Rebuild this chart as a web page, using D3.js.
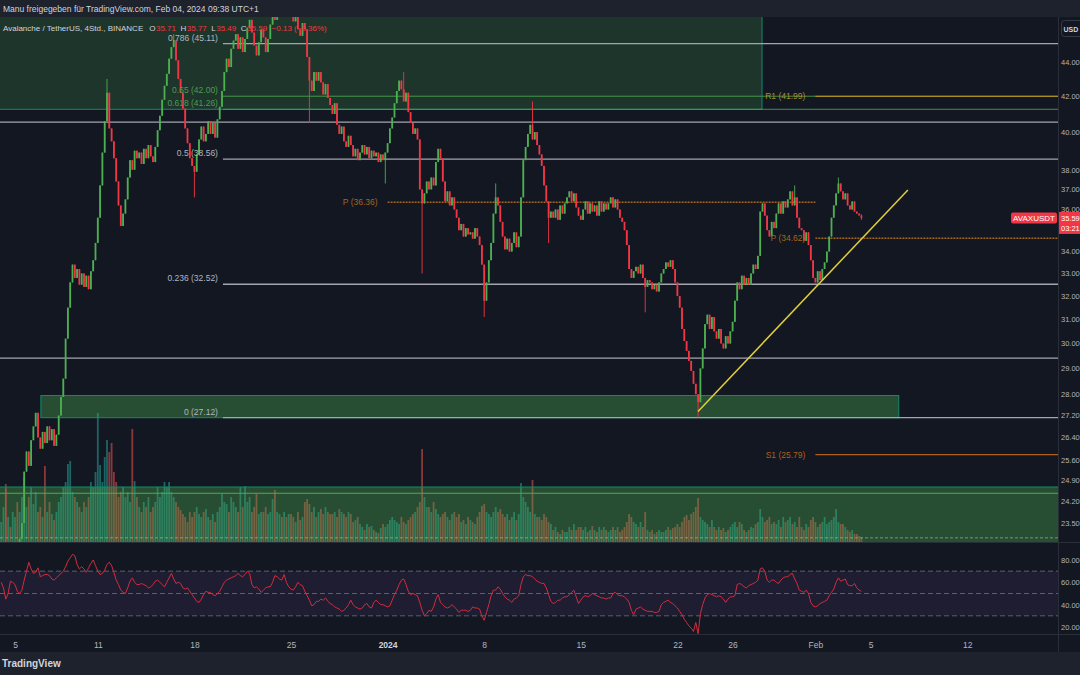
<!DOCTYPE html>
<html>
<head>
<meta charset="utf-8">
<script src="https://cdn.jsdelivr.net/npm/d3@7"></script>
<style>
  body { margin: 0; background: #131722; }
  svg text { font-family: "Liberation Sans", Arial, sans-serif; }
</style>
</head>
<body>
<div id="chart"></div>
<script>
// AVAX / TetherUS, 4h candles, Dec 4 2023 -> Feb 4 2024
const candleStart = "2023-12-04T00:00:00Z";
const candleHours = 4;
const firstOpen = 22.5;

// closes, one row per day (6 candles)
const closes = [
  22.6, 22.9, 22.5, 22.8, 22.4, 22.7,   // Dec 4
  22.8, 22.6, 23.0, 23.5, 25.2, 25.9,
  25.4, 26.3, 26.8, 27.3, 26.4, 26.0,
  26.6, 26.2, 26.8, 26.3, 26.7, 26.1,
  26.5, 27.2, 27.9, 28.6, 30.2, 31.5,
  32.6, 33.4, 32.8, 33.2, 32.5, 33.0,   // Dec 9
  32.4, 32.9, 32.3, 33.1, 33.6, 34.4,
  35.6, 37.2, 38.9, 40.6, 42.2, 40.2,
  39.5, 38.6, 37.4, 36.2, 35.2, 35.8,
  36.5, 37.6, 38.5, 38.0, 39.0, 38.6,
  38.9, 38.3, 39.1, 38.6, 39.3, 38.7,   // Dec 14
  38.4, 39.2, 40.1, 40.9, 41.8, 42.6,
  43.3, 44.2, 44.9, 45.3, 44.1, 43.0,
  42.2, 41.3, 40.2, 39.4, 38.6, 38.2,
  37.9, 38.8, 39.6, 40.3, 39.5, 39.9,
  40.6, 39.9, 40.5, 39.7, 40.7, 41.4,   // Dec 19
  42.3, 43.4, 44.2, 43.7, 44.8, 45.3,
  45.7, 44.8, 45.5, 44.6, 45.4, 46.1,
  46.6, 45.8, 45.0, 44.4, 45.2, 46.0,
  45.5, 44.6, 45.4, 46.3, 47.2, 46.6,
  47.5, 48.3, 47.6, 48.6, 47.8, 48.2,   // Dec 24
  47.2, 46.5, 46.9, 46.0, 45.6, 46.4,
  46.0, 44.3, 42.9, 42.3, 43.4, 42.9,
  43.4, 42.8, 42.1, 42.7, 41.9, 41.5,
  41.0, 41.6, 40.4, 39.9, 40.3, 39.5,
  39.2, 39.8, 39.3, 38.7, 39.1, 38.5,   // Dec 29
  38.9, 39.3, 38.8, 39.2, 38.6, 39.0,
  38.7, 38.9, 38.4, 38.8, 38.5, 38.9,
  39.4, 40.2, 40.8, 41.6, 42.3, 42.9,   // Jan 1
  42.4, 41.7, 42.2, 41.1, 40.5, 39.9,
  40.2, 39.6, 37.0, 36.3, 36.8, 37.4,
  37.0, 37.6, 37.2, 38.4, 39.1, 38.6,
  37.4, 36.4, 36.9, 36.2, 36.6, 36.0,   // Jan 5
  35.6, 35.0, 35.3, 34.7, 35.1, 34.8,
  34.9, 34.6, 35.1, 34.7, 34.3, 33.4,
  31.8, 32.6, 33.6, 34.4, 35.8, 36.6,
  36.2, 35.4, 34.7, 34.1, 34.6, 34.0,
  34.4, 34.9, 34.2, 34.7, 36.6, 38.5,   // Jan 10
  39.2, 39.9, 40.4, 39.6, 40.0, 39.3,
  38.8, 38.2, 37.2, 36.4, 35.6, 35.9,
  35.6, 36.0, 35.5, 36.2, 35.8, 36.3,
  36.6, 36.9, 36.4, 36.8, 36.1, 35.7,
  35.5, 36.0, 36.4, 35.8, 36.3, 35.9,   // Jan 15
  36.2, 35.7, 36.4, 35.9, 36.3, 36.0,
  36.3, 36.6, 36.1, 36.5, 36.0, 35.6,
  35.4, 35.0, 34.3, 33.2, 32.8, 33.1,
  33.3, 33.0, 33.4, 32.8, 32.4, 32.7,
  32.6, 32.3, 32.5, 32.2, 32.6, 33.0,   // Jan 20
  33.2, 33.5, 33.3, 33.6, 33.2, 32.6,
  32.0, 31.5, 30.6, 30.1, 29.7, 29.3,
  28.9, 28.4, 28.0, 27.7, 29.0, 29.8,
  30.8, 31.2, 30.6, 31.1, 30.5, 30.2,
  30.6, 30.0, 29.8, 30.3, 30.0, 30.5,   // Jan 25
  30.9, 31.8, 32.6, 32.3, 32.9, 32.5,
  32.8, 32.5, 33.0, 33.4, 33.2, 33.8,
  35.9, 36.3, 35.7, 35.0, 34.7, 35.4,
  35.1, 35.8, 36.3, 35.8, 36.4, 36.1,
  36.5, 36.9, 36.2, 36.6, 35.6, 35.1,   // Jan 30
  35.0, 34.5, 34.9, 34.3, 33.6, 32.8,
  32.6, 33.1, 32.7, 33.2, 33.5, 34.0,   // Feb 1
  34.7, 35.6, 36.2, 36.8, 37.3, 36.9,
  36.5, 36.8, 36.2, 36.0, 36.4, 35.9,
  35.8, 35.71, 35.59                    // Feb 4
];

// volume (10K AVAX)
const volumes = [
  20, 35, 58, 25, 15, 30,
  25, 40, 30, 45, 64, 35,
  45, 55, 38, 50, 30, 35,
  25, 76, 30, 40, 28, 22,
  30, 40, 45, 55, 60, 78,
  81, 50, 45, 40, 35, 30,
  40, 35, 45, 60, 55, 70,
  129, 77, 60, 85, 102, 90,
  99, 70, 60, 45, 50, 55,
  45, 50, 40, 113, 61, 45,
  35, 30, 40, 35, 45, 30,
  35, 40, 55, 45, 50, 60,
  55, 60, 50, 45, 40, 35,
  32, 28, 25, 20, 30, 25,
  30, 35, 28, 25, 30, 33,
  25, 22, 28, 20, 30, 35,
  48, 40, 38, 30, 45, 40,
  35, 30, 55, 35, 56, 40,
  45, 30, 35, 48, 28, 30,
  30, 35, 28, 30, 43, 52,
  30, 28, 25, 30, 25, 28,
  28, 25, 20, 30, 22, 25,
  40, 43, 38, 30, 35, 25,
  30, 33, 28, 35, 30, 28,
  28, 30, 25, 33, 30, 28,
  25, 30, 28, 20, 22, 25,
  18, 15, 12, 18, 15, 16,
  12, 10, 9, 14, 18, 15,
  18, 22, 25, 22, 20, 18,
  25, 20, 18, 22, 25, 28,
  30, 35, 40, 93, 45, 35,
  35, 30, 40, 33, 28, 25,
  28, 30, 25, 22, 28, 30,
  25, 28, 20, 22, 18, 25,
  22, 20, 18, 25, 30, 36,
  38, 30, 28, 25, 30, 35,
  30, 33, 28, 25, 28, 22,
  25, 30, 22, 28, 59, 45,
  40, 35, 30, 62, 28, 25,
  25, 22, 28, 25, 20, 18,
  12, 15, 10, 8, 12, 10,
  10, 15, 12, 18, 12, 15,
  15, 12, 15, 10, 12, 16,
  12, 10, 15, 12, 15, 12,
  10, 12, 15, 12, 15, 10,
  12, 15, 20, 28, 25, 20,
  18, 15, 20, 15, 30, 12,
  10, 12, 8, 10, 12, 10,
  10, 12, 15, 12, 14, 15,
  18, 15, 20, 25, 27, 22,
  28, 30, 35, 44, 25, 22,
  20, 18, 15, 22, 15, 12,
  15, 12, 14, 10, 12, 15,
  18, 20, 15, 20, 18, 12,
  10, 12, 15, 14, 18, 20,
  33, 25, 20, 22, 25, 18,
  20, 18, 22, 15, 25, 20,
  22, 25, 18, 20, 15, 25,
  15, 12, 18, 15, 22, 25,
  20, 15, 18, 20, 25, 18,
  20, 22, 25, 33, 20, 18,
  18, 15, 12, 10, 12, 8,
  8, 6, 5
];

// RSI (14)
const rsiValues = [
  60, 55, 45, 50, 61, 60,
  58, 52, 50, 53, 62, 70,
  78, 72, 68, 69, 73, 65,
  66, 67, 67, 66, 63, 62,
  64, 66, 68, 70, 74, 79,
  82, 85, 84, 76, 72, 74,
  72, 69, 73, 77, 80, 75,
  70, 67, 68, 71, 76, 78,
  75, 69, 62, 58, 53, 51,
  50, 55, 61, 64, 60, 58,
  58, 59, 58, 57, 55, 56,
  58, 61, 62, 60, 58, 56,
  60, 64, 68, 63, 59, 60,
  59, 55, 54, 55, 52, 49,
  46, 43, 42, 45, 49, 52,
  51, 51, 49, 48, 50, 52,
  56, 60, 62, 63, 64, 65,
  66, 68, 66, 65, 67, 70,
  68, 58, 55, 56, 54, 51,
  53, 55, 56, 56, 60, 66,
  65, 63, 62, 67, 60, 56,
  54, 53, 56, 60, 58, 57,
  52, 48, 44, 39, 40, 43,
  43, 45, 44, 46, 43, 41,
  40, 38, 37, 36, 34, 35,
  37, 40, 44, 40, 38, 37,
  36, 37, 40, 41, 38, 37,
  42, 44, 42, 40, 40, 39,
  38, 39, 44, 49, 53, 58,
  62, 63, 58, 52, 49, 50,
  49, 48, 42, 35, 30, 32,
  35, 34, 38, 45, 49, 42,
  40, 38, 37, 38, 40, 38,
  36, 33, 35, 35, 35, 34,
  35, 38, 37, 37, 36, 30,
  26, 33, 40, 48, 53, 53,
  56, 54, 50, 47, 45, 44,
  42, 45, 46, 48, 58, 65,
  67, 66, 66, 65, 63, 61,
  60, 59, 59, 55, 49, 43,
  41, 42, 44, 44, 46, 47,
  47, 49, 51, 53, 47, 41,
  44, 47, 48, 47, 48, 50,
  49, 48, 47, 46, 46, 45,
  46, 46, 50, 51, 49, 48,
  48, 47, 45, 42, 35, 31,
  36, 37, 38, 36, 35, 34,
  34, 34, 33, 33, 34, 40,
  42, 43, 44, 42, 41, 39,
  37, 34, 31, 27, 24, 21,
  19, 16, 24, 14, 32, 40,
  46, 49, 50, 49, 48, 47,
  48, 47, 45, 42, 45, 47,
  47, 48, 58, 59, 58, 56,
  55, 57, 58, 59, 60, 62,
  72, 73, 70, 62, 60, 62,
  62, 60, 59, 62, 64, 65,
  65, 67, 68, 63, 59, 53,
  52, 51, 53, 50, 42, 39,
  38, 39, 41, 42, 43, 44,
  48, 51, 54, 60, 64, 61,
  62, 63, 58, 57, 57, 59,
  55, 53, 52
];

// long wicks: [candle time, high, low]
const wickMarks = [
  ["2023-12-04T08:00:00Z", 24.6, null],
  ["2023-12-11T16:00:00Z", 43.0, null],
  ["2023-12-16T12:00:00Z", 45.7, null],
  ["2023-12-18T00:00:00Z", null, 36.6],
  ["2023-12-26T08:00:00Z", null, 40.5],
  ["2023-12-31T20:00:00Z", null, 37.3],
  ["2024-01-02T04:00:00Z", 43.4, null],
  ["2024-01-03T12:00:00Z", null, 33.0],
  ["2024-01-08T00:00:00Z", null, 31.1],
  ["2024-01-08T20:00:00Z", 37.3, null],
  ["2024-01-11T12:00:00Z", 41.7, null],
  ["2024-01-12T16:00:00Z", null, 34.4],
  ["2024-01-19T16:00:00Z", null, 31.3],
  ["2024-01-23T12:00:00Z", null, 27.12],
  ["2024-01-30T12:00:00Z", 37.2, null],
  ["2024-02-02T16:00:00Z", 37.6, null],
  ["2024-02-04T08:00:00Z", 35.77, 35.49]
];

const priceTicks = [44, 42, 40, 38, 37, 36, 34, 33, 32, 31, 30, 29, 28, 27.2, 26.4, 25.6, 24.9, 24.2, 23.5];
const rsiTicks = [80, 60, 40, 20];
const rsiLevels = [70, 50, 30];
const timeTicks = ["2023-12-05", "2023-12-11", "2023-12-18", "2023-12-25", "2024-01-01", "2024-01-08",
                   "2024-01-15", "2024-01-22", "2024-01-26", "2024-02-01", "2024-02-05", "2024-02-12"];
const timeLabels = ["5", "11", "18", "25", "2024", "8", "15", "22", "26", "Feb", "5", "12"];

// drawings
const fibStart = "2023-12-20T01:40:00Z";
const fibLevels = [
  { label: "0.786 (45.11)", price: 45.11, kind: "gray" },
  { label: "0.65 (42.00)", price: 42.00, kind: "green" },
  { label: "0.618 (41.26)", price: 41.26, kind: "green" },
  { label: "0.5 (38.56)", price: 38.56, kind: "gray" },
  { label: "0.236 (32.52)", price: 32.52, kind: "gray" },
  { label: "0 (27.12)", price: 27.12, kind: "gray" }
];
const levelLines = [40.55, 29.41];
const pivots = [
  { label: "P (36.36)", price: 36.36, from: "2024-01-01", to: "2024-02-01", kind: "p" },
  { label: "R1 (41.99)", price: 41.99, from: "2024-02-01", to: null, kind: "r" },
  { label: "P (34.62)", price: 34.62, from: "2024-02-01", to: null, kind: "p" },
  { label: "S1 (25.79)", price: 25.79, from: "2024-02-01", to: null, kind: "s" }
];
const zones = [
  { from: null, to: "2024-01-28T03:10:00Z", top: 49, bottom: 41.26, kind: "soft" },
  { from: "2023-12-06T21:00:00Z", to: "2024-02-07T01:00:00Z", top: 27.95, bottom: 27.12, kind: "box" },
  { from: null, to: null, top: 24.68, bottom: 22.0, kind: "box" }
];
const zoneLines = [24.47, 23.03];
const trend = [["2024-01-23T11:50:00Z", 27.35], ["2024-02-07T16:50:00Z", 36.97]];

// ---------- layout ----------
const W = 1080, H = 675;
const pane = { left: 0, right: 1058, top: 17, bottom: 542 };
const rsiPane = { top: 543, bottom: 634 };
const upColor = "#4caf50", downColor = "#f23645";

const x = d3.scaleUtc()
  .domain([new Date("2023-12-03T21:55:00Z"), new Date("2024-02-18T13:55:00Z")])
  .range([pane.left, pane.right]);
const y = d3.scaleLog().domain([22.9, 46.78]).range([pane.bottom, pane.top]);
const yVol = d3.scaleLinear().domain([0, 130]).range([pane.bottom, pane.bottom - 130]);
const yRsi = d3.scaleLinear().domain([20, 80]).range([627, 560]);

const t0 = Date.parse(candleStart);
const step = candleHours * 3600e3;
const candles = closes.map((c, i) => {
  const open = i === 0 ? firstOpen : closes[i - 1];
  return { date: new Date(t0 + i * step), open, close: c,
           high: Math.max(open, c), low: Math.min(open, c),
           volume: volumes[i], rsi: rsiValues[i] };
});
wickMarks.forEach(([d, hi, lo]) => {
  const c = candles[Math.round((Date.parse(d) - t0) / step)];
  if (!c) return;
  if (hi != null) c.high = Math.max(c.high, hi);
  if (lo != null) c.low = Math.min(c.low, lo);
});

const svg = d3.select("#chart").append("svg").attr("width", W).attr("height", H);
svg.append("rect").attr("width", W).attr("height", H).attr("fill", "#131722");

const defs = svg.append("defs");
defs.append("clipPath").attr("id", "clipPrice").append("rect")
  .attr("x", pane.left).attr("y", pane.top).attr("width", pane.right - pane.left).attr("height", pane.bottom - pane.top);
defs.append("clipPath").attr("id", "clipRsi").append("rect")
  .attr("x", pane.left).attr("y", rsiPane.top).attr("width", pane.right - pane.left).attr("height", rsiPane.bottom - rsiPane.top);

const price = svg.append("g").attr("clip-path", "url(#clipPrice)");
const xd = d => d ? x(new Date(d)) : null;
const barW = 1.8;

// volume bars
price.append("g").selectAll("rect").data(candles).join("rect")
  .attr("x", d => x(d.date) - barW / 2)
  .attr("width", barW)
  .attr("y", d => yVol(d.volume))
  .attr("height", d => pane.bottom - yVol(d.volume))
  .attr("fill", d => d.close >= d.open ? "rgba(38,166,154,0.55)" : "rgba(239,83,80,0.55)");

// zones
price.append("g").selectAll("rect").data(zones).join("rect")
  .attr("x", d => d.from ? xd(d.from) : -2)
  .attr("width", d => (d.to ? xd(d.to) : pane.right + 2) - (d.from ? xd(d.from) : -2))
  .attr("y", d => y(d.top))
  .attr("height", d => y(d.bottom) - y(d.top))
  .attr("fill", d => d.kind === "soft" ? "rgba(76,175,80,0.2)" : "rgba(76,175,80,0.36)")
  .attr("stroke", "#148a6e")
  .attr("stroke-width", 1);

price.append("g").selectAll("line").data(zoneLines).join("line")
  .attr("x1", pane.left).attr("x2", pane.right)
  .attr("y1", d => y(d)).attr("y2", d => y(d))
  .attr("stroke", (d, i) => i === 0 ? "#4caf50" : "rgba(140,200,120,0.7)")
  .attr("stroke-dasharray", (d, i) => i === 0 ? null : "3,2")
  .attr("stroke-width", 1);

// full width levels
price.append("g").selectAll("line").data(levelLines).join("line")
  .attr("x1", pane.left).attr("x2", pane.right)
  .attr("y1", d => y(d)).attr("y2", d => y(d))
  .attr("stroke", "#a3a6af").attr("stroke-width", 1.3);

// fib levels
price.append("g").selectAll("line").data(fibLevels).join("line")
  .attr("x1", xd(fibStart)).attr("x2", pane.right)
  .attr("y1", d => y(d.price)).attr("y2", d => y(d.price))
  .attr("stroke", d => d.kind === "green" ? "rgba(76,175,80,0.8)" : "#a3a6af")
  .attr("stroke-width", d => d.kind === "green" ? 1 : 1.3);

// pivots
const pivotColor = { p: "#a4661c", r: "#a88d24", s: "#b0601c" };
price.append("g").selectAll("line").data(pivots).join("line")
  .attr("x1", d => xd(d.from)).attr("x2", d => d.to ? xd(d.to) : pane.right)
  .attr("y1", d => y(d.price)).attr("y2", d => y(d.price))
  .attr("stroke", d => pivotColor[d.kind])
  .attr("stroke-width", d => d.kind === "p" ? 1.6 : 1.2)
  .attr("stroke-dasharray", d => d.kind === "p" ? "2,1" : null);

// candles
const cg = price.append("g");
cg.selectAll("line").data(candles).join("line")
  .attr("x1", d => x(d.date)).attr("x2", d => x(d.date))
  .attr("y1", d => y(d.high)).attr("y2", d => y(d.low))
  .attr("stroke", d => d.close >= d.open ? upColor : downColor)
  .attr("stroke-width", 0.9);
cg.selectAll("rect").data(candles).join("rect")
  .attr("x", d => x(d.date) - barW / 2)
  .attr("width", barW)
  .attr("y", d => y(Math.max(d.open, d.close)))
  .attr("height", d => Math.max(0.8, y(Math.min(d.open, d.close)) - y(Math.max(d.open, d.close))))
  .attr("fill", d => d.close >= d.open ? upColor : downColor);

// trend line
price.append("line")
  .attr("x1", xd(trend[0][0])).attr("y1", y(trend[0][1]))
  .attr("x2", xd(trend[1][0])).attr("y2", y(trend[1][1]))
  .attr("stroke", "#e3cf3a").attr("stroke-width", 1.5);

// labels of fib + pivots
const labels = svg.append("g").attr("font-size", 8.5);
labels.selectAll("text.fib").data(fibLevels).join("text")
  .attr("class", "fib")
  .attr("x", xd(fibStart) - 5)
  .attr("y", d => y(d.price) - 3)
  .attr("text-anchor", "end")
  .attr("fill", d => d.kind === "green" ? "#4e9a52" : "#b2b5be")
  .text(d => d.label);
labels.selectAll("text.piv").data(pivots).join("text")
  .attr("class", "piv")
  .attr("x", d => xd(d.from) - 10)
  .attr("y", d => y(d.price) + 3)
  .attr("text-anchor", "end")
  .attr("fill", d => pivotColor[d.kind])
  .text(d => d.label);

// ---------- RSI pane ----------
const rsiG = svg.append("g").attr("clip-path", "url(#clipRsi)");
rsiG.append("rect")
  .attr("x", pane.left).attr("width", pane.right - pane.left)
  .attr("y", yRsi(70)).attr("height", yRsi(30) - yRsi(70))
  .attr("fill", "rgba(126,87,194,0.1)");
rsiG.selectAll("line").data(rsiLevels).join("line")
  .attr("x1", pane.left).attr("x2", pane.right)
  .attr("y1", d => yRsi(d)).attr("y2", d => yRsi(d))
  .attr("stroke", "#5d606b").attr("stroke-dasharray", "5,3");
rsiG.append("path").datum(candles)
  .attr("fill", "none").attr("stroke", "#d42c3c").attr("stroke-width", 1)
  .attr("d", d3.line().x(d => x(d.date)).y(d => yRsi(d.rsi)));

// separators
const sep = svg.append("g").attr("stroke", "#2a2e39");
sep.append("line").attr("x1", 0).attr("x2", W).attr("y1", 542.5).attr("y2", 542.5);
sep.append("line").attr("x1", 0).attr("x2", W).attr("y1", 634.5).attr("y2", 634.5);
sep.append("line").attr("x1", 1058.5).attr("x2", 1058.5).attr("y1", 17).attr("y2", 652);

// ---------- axes ----------
const styleAxis = (g, size) => {
  g.select(".domain").remove();
  g.attr("font-family", "Liberation Sans, Arial, sans-serif").attr("font-size", size);
  g.selectAll("text").attr("fill", "#b2b5be");
};
svg.append("g").attr("transform", `translate(${pane.right},0)`)
  .call(d3.axisRight(y).tickValues(priceTicks).tickFormat(d3.format(".2f")).tickSize(0).tickPadding(3))
  .call(styleAxis, 7.5);
svg.append("g").attr("transform", `translate(${pane.right},0)`)
  .call(d3.axisRight(yRsi).tickValues(rsiTicks).tickFormat(d3.format(".2f")).tickSize(0).tickPadding(3))
  .call(styleAxis, 7.5);
svg.append("g").attr("transform", "translate(0,638)")
  .call(d3.axisBottom(x).tickValues(timeTicks.map(d => new Date(d + "T00:00:00Z")))
    .tickFormat((d, i) => timeLabels[i]).tickSize(0).tickPadding(4))
  .call(styleAxis, 8.5)
  .call(g => g.selectAll("text").filter((d, i) => timeLabels[i] === "2024")
    .attr("font-weight", "bold").attr("fill", "#d1d4dc"));

// price tags on the right
const lastClose = closes[closes.length - 1];
const tagY = y(lastClose);
svg.append("rect").attr("x", 1011).attr("y", tagY - 5.5).attr("width", 46).attr("height", 11)
  .attr("rx", 2).attr("fill", downColor);
svg.append("text").attr("x", 1034).attr("y", tagY + 3).attr("text-anchor", "middle")
  .attr("font-size", 8).attr("fill", "#fff").text("AVAXUSDT");
svg.append("rect").attr("x", 1059).attr("y", tagY - 6).attr("width", 21).attr("height", 22)
  .attr("fill", downColor);
svg.append("text").attr("x", 1061).attr("y", tagY + 3).attr("font-size", 7.5).attr("fill", "#fff")
  .text(d3.format(".2f")(lastClose));
svg.append("text").attr("x", 1061).attr("y", tagY + 13).attr("font-size", 7.5).attr("fill", "#fff")
  .text("03:21");

// USD button
svg.append("rect").attr("x", 1061.5).attr("y", 20.5).attr("width", 24).attr("height", 16)
  .attr("rx", 3).attr("fill", "#131722").attr("stroke", "#363a45");
svg.append("text").attr("x", 1063.5).attr("y", 31.5).attr("font-size", 7).attr("font-weight", "bold")
  .attr("fill", "#d1d4dc").text("USD");

// ---------- header, legend, footer ----------
svg.append("rect").attr("width", W).attr("height", 17).attr("fill", "#1e222d");
svg.append("text").attr("x", 3).attr("y", 12).attr("font-size", 8.5).attr("fill", "#d1d4dc")
  .text("Manu freigegeben für TradingView.com, Feb 04, 2024 09:38 UTC+1");

const last = candles[candles.length - 1];
const fmt = d3.format(".2f");
const legend = svg.append("g").attr("font-size", 8);
const sym = legend.append("text").attr("x", 3).attr("y", 31).attr("fill", "#d1d4dc")
  .text("Avalanche / TetherUS, 4Std., BINANCE");
const legendParts = [
  ["O", fmt(last.open)], ["H", fmt(last.high)], ["L", fmt(last.low)], ["C", fmt(last.close)],
  ["", "−0.13 (−0.36%)"]
];
let lx = 3 + sym.node().getComputedTextLength() + 6;
legendParts.forEach(([k, v]) => {
  const t = legend.append("text").attr("x", lx).attr("y", 31);
  t.append("tspan").attr("fill", "#d1d4dc").text(k);
  t.append("tspan").attr("fill", downColor).attr("dx", k ? 0.5 : 0).text(v);
  lx += t.node().getComputedTextLength() + 5;
});

svg.append("rect").attr("y", 652).attr("width", W).attr("height", H - 652).attr("fill", "#1e222d");
svg.append("text").attr("x", 2).attr("y", 667).attr("font-size", 10).attr("font-weight", "bold")
  .attr("fill", "#d1d4dc").text("TradingView");
</script>
</body>
</html>
